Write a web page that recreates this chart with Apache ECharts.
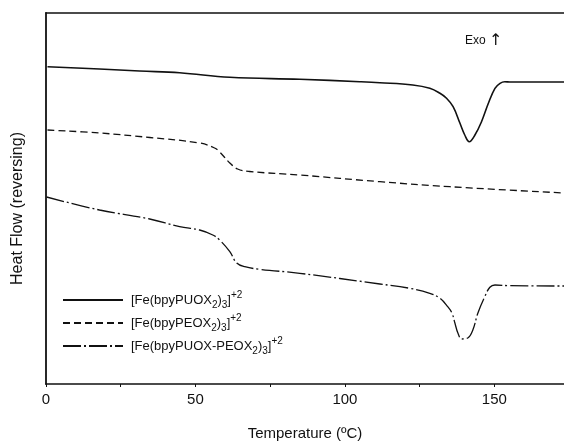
<!DOCTYPE html>
<html>
<head>
<meta charset="utf-8">
<script src="https://cdn.jsdelivr.net/npm/echarts@6/dist/echarts.min.js"></script>
<style>html,body{margin:0;padding:0;background:#fff}#c{width:564px;height:441px}</style>
</head>
<body>
<div id="c"></div>
<script>
// Temperature (°C) and heat flow (arbitrary units)
const puoxT = [0.5, 17.9, 31.3, 44.7, 61.5, 84.9, 105, 111.7, 122.7, 128.4, 131.8, 134.0, 136.2, 138.5, 140.1, 141.6, 143.5, 145.7, 148.0, 150.2, 151.9, 153.5, 155.2, 173.3];
const puoxY = [317.3, 315, 313, 311.3, 306.7, 304.7, 302.3, 301.3, 299, 295.7, 290.7, 285.7, 277.3, 260.7, 249, 242.3, 249, 262.3, 280.7, 295.7, 300.7, 302.3, 302, 302];

const peoxT = [0.5, 17.9, 34.7, 51.4, 56.4, 58.1, 61.5, 64.1, 68.1, 84.9, 111.7, 135.1, 173.3];
const peoxY = [254, 251, 246.5, 241, 236, 232, 221, 215, 212.5, 209, 202.3, 197.3, 191];

const mixT = [0.2, 17.9, 34.7, 44.7, 51.4, 55.8, 58.1, 61.5, 63.8, 66.5, 71.5, 84.9, 111.7, 121.7, 128.4, 131.8, 134.4, 135.8, 136.8, 137.8, 139.1, 141.1, 142.8, 144.5, 146.8, 148.5, 150.2, 155.2, 173.3];
const mixY = [187, 174, 165, 157.3, 154, 149, 144, 132.3, 121, 117.3, 114.7, 110.7, 100, 95.7, 90.7, 85.7, 77.3, 71, 61, 51, 45, 46, 54, 71, 87.3, 96.7, 99, 98.3, 98];

const seriesNames = ['PUOX', 'PEOX', 'MIX'];
const legendLabels = {
  PUOX: '{n|[Fe(bpyPUOX}{s|2}{n|)}{s|3}{n|]}{p|+2}',
  PEOX: '{n|[Fe(bpyPEOX}{s|2}{n|)}{s|3}{n|]}{p|+2}',
  MIX: '{n|[Fe(bpyPUOX-PEOX}{s|2}{n|)}{s|3}{n|]}{p|+2}'
};
const xTicks = [0, 50, 100, 150];

function pairs(xs, ys) { return xs.map((x, i) => [x, ys[i]]); }

const font = 'Liberation Sans, Arial, Helvetica, sans-serif';
const chart = echarts.init(document.getElementById('c'), null, {renderer: 'canvas'});
chart.setOption({
  animation: false,
  backgroundColor: '#fff',
  color: ['#111', '#111', '#111'],
  grid: {left: 46, right: 0, top: 13, bottom: 57, containLabel: false, outerBoundsMode: 'none'},
  legend: {
    orient: 'vertical', left: 62, top: 290, padding: 0,
    itemWidth: 60, itemHeight: 14, itemGap: 3,
    itemStyle: {opacity: 0},
    formatter: n => legendLabels[n],
    textStyle: {
      fontFamily: font, color: '#111', lineHeight: 20, padding: [0, 0, 0, 3],
      rich: {
        n: {fontSize: 13, fontFamily: font, color: '#111'},
        s: {fontSize: 10, fontFamily: font, color: '#111', verticalAlign: 'bottom', lineHeight: 12},
        p: {fontSize: 10, fontFamily: font, color: '#111', verticalAlign: 'top', lineHeight: 11}
      }
    },
    data: seriesNames
  },
  xAxis: [{
    type: 'value', min: 0, max: 173.3, interval: 50,
    name: 'Temperature (ºC)', nameLocation: 'middle', nameGap: 42,
    nameTextStyle: {fontFamily: font, fontSize: 15, color: '#111'},
    axisLine: {show: true, lineStyle: {color: '#111', width: 1.5}},
    axisTick: {show: true, length: 3, lineStyle: {color: '#111'}},
    minorTick: {show: true, splitNumber: 2, length: 3, lineStyle: {color: '#111'}},
    splitLine: {show: false},
    axisLabel: {fontFamily: font, fontSize: 15, color: '#111', margin: 8,
      formatter: v => xTicks.includes(v) ? String(v) : '', showMaxLabel: false}
  }, {
    type: 'value', position: 'top', min: 0, max: 173.3,
    axisLine: {show: true, lineStyle: {color: '#111', width: 1.5}},
    axisTick: {show: false}, axisLabel: {show: false}, splitLine: {show: false}
  }],
  yAxis: {
    type: 'value', min: 0, max: 371,
    name: 'Heat Flow (reversing)', nameLocation: 'middle', nameGap: 20,
    nameTextStyle: {fontFamily: font, fontSize: 16, color: '#111', padding: [0, 20, 0, 0]},
    axisLine: {show: true, lineStyle: {color: '#111', width: 1.8}},
    axisTick: {show: false}, axisLabel: {show: false}, splitLine: {show: false}
  },
  series: [
    {name: 'PUOX', type: 'line', data: pairs(puoxT, puoxY), showSymbol: false, symbol: 'none',
     smooth: 0.4, itemStyle: {color: '#111'}, lineStyle: {color: '#111', width: 1.6, type: 'solid'}},
    {name: 'PEOX', type: 'line', data: pairs(peoxT, peoxY), showSymbol: false, symbol: 'none',
     smooth: 0.4, itemStyle: {color: '#111'}, lineStyle: {color: '#111', width: 1.3, type: [7, 4]}},
    {name: 'MIX', type: 'line', data: pairs(mixT, mixY), showSymbol: false, symbol: 'none',
     smooth: 0.4, itemStyle: {color: '#111'}, lineStyle: {color: '#111', width: 1.3, type: [18, 3, 2, 3]}}
  ],
  graphic: [{
    type: 'text', left: 465, top: 33,
    style: {text: '{a|Exo} {b|↑}', rich: {
      a: {fontFamily: font, fontSize: 12, fill: '#111'},
      b: {fontFamily: 'DejaVu Sans', fontSize: 16, fill: '#111'}
    }}
  }]
});
</script>
</body>
</html>
